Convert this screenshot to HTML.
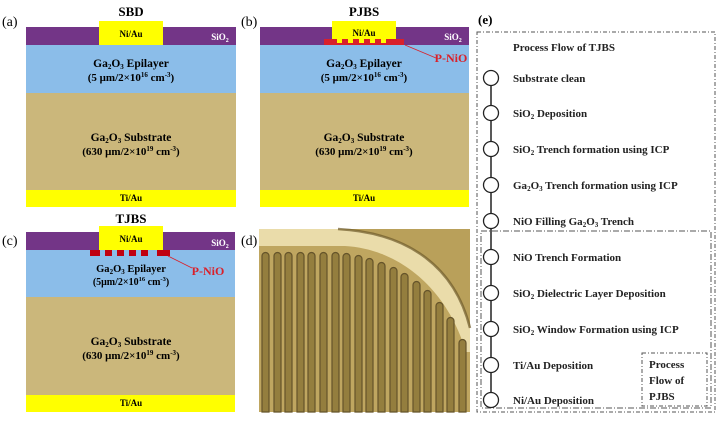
<!DOCTYPE html>
<html><head><meta charset="utf-8"><style>
html,body{margin:0;padding:0;background:#fff;width:724px;height:427px;overflow:hidden;}
svg{display:block;font-family:"Liberation Serif",serif;}
.b{font-weight:bold;}
</style></head><body>
<svg width="724" height="427" viewBox="0 0 724 427" xmlns="http://www.w3.org/2000/svg">
<!-- Panel a -->
<text x="2" y="26" font-size="14">(a)</text>
<text x="131" y="16" font-size="13" class="b" text-anchor="middle">SBD</text>
<rect x="26" y="27" width="210" height="18" fill="#733587"/>
<rect x="26" y="45" width="210" height="48" fill="#8bbde9"/>
<rect x="26" y="93" width="210" height="97" fill="#cbb77b"/>
<rect x="26" y="190" width="210" height="17" fill="#ffff00"/>
<rect x="99" y="21" width="64" height="24" fill="#ffff00"/>
<text x="131" y="37" font-size="9" class="b" text-anchor="middle">Ni/Au</text>
<text x="220" y="40" font-size="9" class="b" fill="#fff" text-anchor="middle">SiO<tspan font-size="6" dy="2">2</tspan></text>
<text x="131" y="67" font-size="11.5" class="b" text-anchor="middle">Ga<tspan font-size="7" dy="2">2</tspan><tspan dy="-2">O</tspan><tspan font-size="7" dy="2">3</tspan><tspan dy="-2"> Epilayer</tspan></text>
<text x="131" y="81" font-size="11" class="b" text-anchor="middle">(5 μm/2×10<tspan font-size="7" dy="-4">16</tspan><tspan dy="4"> cm</tspan><tspan font-size="7" dy="-4">-3</tspan><tspan dy="4">)</tspan></text>
<text x="131" y="141" font-size="11.5" class="b" text-anchor="middle">Ga<tspan font-size="7" dy="2">2</tspan><tspan dy="-2">O</tspan><tspan font-size="7" dy="2">3</tspan><tspan dy="-2"> Substrate</tspan></text>
<text x="131" y="155" font-size="11" class="b" text-anchor="middle">(630 μm/2×10<tspan font-size="7" dy="-4">19</tspan><tspan dy="4"> cm</tspan><tspan font-size="7" dy="-4">-3</tspan><tspan dy="4">)</tspan></text>
<text x="131" y="201" font-size="9" class="b" text-anchor="middle">Ti/Au</text>

<!-- Panel b -->
<text x="241" y="26" font-size="14">(b)</text>
<text x="364" y="16" font-size="13" class="b" text-anchor="middle">PJBS</text>
<rect x="260" y="27" width="209" height="18" fill="#733587"/>
<rect x="260" y="45" width="209" height="48" fill="#8bbde9"/>
<rect x="260" y="93" width="209" height="97" fill="#cbb77b"/>
<rect x="260" y="190" width="209" height="17" fill="#ffff00"/>
<rect x="332" y="21" width="64" height="24" fill="#ffff00"/>
<rect x="324" y="39" width="80" height="6" fill="#d9202a"/>
<g fill="#ffff00"><rect x="337" y="39" width="5" height="4"/><rect x="348" y="39" width="5" height="4"/><rect x="359" y="39" width="5" height="4"/><rect x="370" y="39" width="5" height="4"/><rect x="381" y="39" width="5" height="4"/></g>
<text x="364" y="36" font-size="9" class="b" text-anchor="middle">Ni/Au</text>
<text x="453" y="40" font-size="9" class="b" fill="#fff" text-anchor="middle">SiO<tspan font-size="6" dy="2">2</tspan></text>
<line x1="405" y1="45" x2="436" y2="58" stroke="#d9202a" stroke-width="0.8"/>
<text x="451" y="62" font-size="12" class="b" fill="#d9202a" text-anchor="middle">P-NiO</text>
<text x="364" y="67" font-size="11.5" class="b" text-anchor="middle">Ga<tspan font-size="7" dy="2">2</tspan><tspan dy="-2">O</tspan><tspan font-size="7" dy="2">3</tspan><tspan dy="-2"> Epilayer</tspan></text>
<text x="364" y="81" font-size="11" class="b" text-anchor="middle">(5 μm/2×10<tspan font-size="7" dy="-4">16</tspan><tspan dy="4"> cm</tspan><tspan font-size="7" dy="-4">-3</tspan><tspan dy="4">)</tspan></text>
<text x="364" y="141" font-size="11.5" class="b" text-anchor="middle">Ga<tspan font-size="7" dy="2">2</tspan><tspan dy="-2">O</tspan><tspan font-size="7" dy="2">3</tspan><tspan dy="-2"> Substrate</tspan></text>
<text x="364" y="155" font-size="11" class="b" text-anchor="middle">(630 μm/2×10<tspan font-size="7" dy="-4">19</tspan><tspan dy="4"> cm</tspan><tspan font-size="7" dy="-4">-3</tspan><tspan dy="4">)</tspan></text>
<text x="364" y="201" font-size="9" class="b" text-anchor="middle">Ti/Au</text>

<!-- Panel c -->
<text x="2" y="245" font-size="14">(c)</text>
<text x="131" y="223" font-size="13" class="b" text-anchor="middle">TJBS</text>
<rect x="26" y="232" width="209" height="18" fill="#733587"/>
<rect x="26" y="250" width="209" height="47" fill="#8bbde9"/>
<rect x="26" y="297" width="209" height="98" fill="#cbb77b"/>
<rect x="26" y="395" width="209" height="17" fill="#ffff00"/>
<rect x="99" y="226" width="64" height="24" fill="#ffff00"/>
<g fill="#c00010"><rect x="90" y="250" width="10" height="6"/><rect x="105" y="250" width="7" height="6"/><rect x="117" y="250" width="7" height="6"/><rect x="129" y="250" width="7" height="6"/><rect x="141" y="250" width="7" height="6"/><rect x="157" y="250" width="13" height="6"/></g>
<text x="131" y="242" font-size="9" class="b" text-anchor="middle">Ni/Au</text>
<text x="220" y="246" font-size="9" class="b" fill="#fff" text-anchor="middle">SiO<tspan font-size="6" dy="2">2</tspan></text>
<line x1="168" y1="256" x2="192" y2="268" stroke="#d9202a" stroke-width="0.8"/>
<text x="208" y="275" font-size="12" class="b" fill="#d9202a" text-anchor="middle">P-NiO</text>
<text x="131" y="272" font-size="10.5" class="b" text-anchor="middle">Ga<tspan font-size="7" dy="2">2</tspan><tspan dy="-2">O</tspan><tspan font-size="7" dy="2">3</tspan><tspan dy="-2"> Epilayer</tspan></text>
<text x="131" y="285" font-size="10" class="b" text-anchor="middle">(5μm/2×10<tspan font-size="6.5" dy="-4">16</tspan><tspan dy="4"> cm</tspan><tspan font-size="6.5" dy="-4">-3</tspan><tspan dy="4">)</tspan></text>
<text x="131" y="345" font-size="11.5" class="b" text-anchor="middle">Ga<tspan font-size="7" dy="2">2</tspan><tspan dy="-2">O</tspan><tspan font-size="7" dy="2">3</tspan><tspan dy="-2"> Substrate</tspan></text>
<text x="131" y="359" font-size="11" class="b" text-anchor="middle">(630 μm/2×10<tspan font-size="7" dy="-4">19</tspan><tspan dy="4"> cm</tspan><tspan font-size="7" dy="-4">-3</tspan><tspan dy="4">)</tspan></text>
<text x="131" y="406" font-size="9" class="b" text-anchor="middle">Ti/Au</text>

<!-- Panel d photo -->
<text x="241" y="245" font-size="14">(d)</text>
<rect x="259" y="229" width="211" height="183" fill="#eadcaa"/>
<path d="M338,229 C410,233 455,268 470,328 L470,229 Z" fill="#b9a05a"/>
<path d="M338,229 C410,233 455,268 470,328" fill="none" stroke="#6e5a2a" stroke-width="2.5" opacity="0.7"/>
<path d="M259,246 L345,246 C400,249 448,290 466,352 L470,352 L470,412 L259,412 Z" fill="#bfa660"/>
<g fill="#947e3e" stroke="#65542a" stroke-width="1.2">
<path d="M262,412 V256 a3.5,3.5 0 0 1 7,0 V412 Z"/>
<path d="M274,412 V256 a3.5,3.5 0 0 1 7,0 V412 Z"/>
<path d="M285,412 V256 a3.5,3.5 0 0 1 7,0 V412 Z"/>
<path d="M297,412 V256 a3.5,3.5 0 0 1 7,0 V412 Z"/>
<path d="M308,412 V256 a3.5,3.5 0 0 1 7,0 V412 Z"/>
<path d="M320,412 V256 a3.5,3.5 0 0 1 7,0 V412 Z"/>
<path d="M332,412 V256 a3.5,3.5 0 0 1 7,0 V412 Z"/>
<path d="M343,412 V257 a3.5,3.5 0 0 1 7,0 V412 Z"/>
<path d="M355,412 V259 a3.5,3.5 0 0 1 7,0 V412 Z"/>
<path d="M366,412 V262 a3.5,3.5 0 0 1 7,0 V412 Z"/>
<path d="M378,412 V266 a3.5,3.5 0 0 1 7,0 V412 Z"/>
<path d="M390,412 V271 a3.5,3.5 0 0 1 7,0 V412 Z"/>
<path d="M401,412 V277 a3.5,3.5 0 0 1 7,0 V412 Z"/>
<path d="M413,412 V285 a3.5,3.5 0 0 1 7,0 V412 Z"/>
<path d="M424,412 V294 a3.5,3.5 0 0 1 7,0 V412 Z"/>
<path d="M436,412 V306 a3.5,3.5 0 0 1 7,0 V412 Z"/>
<path d="M447,412 V321 a3.5,3.5 0 0 1 7,0 V412 Z"/>
<path d="M459,412 V343 a3.5,3.5 0 0 1 7,0 V412 Z"/>
</g>

<!-- Panel e -->
<text x="478" y="24" font-size="13" class="b">(e)</text>
<rect x="477" y="32" width="238" height="380" fill="none" stroke="#555" stroke-width="1" stroke-dasharray="4,2,1,2"/>
<rect x="481" y="231" width="230" height="177" fill="none" stroke="#555" stroke-width="1" stroke-dasharray="6,2,1,2"/>
<rect x="642" y="353" width="65" height="53" fill="none" stroke="#555" stroke-width="1" stroke-dasharray="4,2,1,2"/>
<line x1="491" y1="78" x2="491" y2="400" stroke="#222" stroke-width="1.5"/>
<g fill="#fff" stroke="#222" stroke-width="1.3">
<circle cx="491" cy="78" r="7.5"/><circle cx="491" cy="113" r="7.5"/><circle cx="491" cy="149" r="7.5"/><circle cx="491" cy="185" r="7.5"/><circle cx="491" cy="221" r="7.5"/><circle cx="491" cy="257" r="7.5"/><circle cx="491" cy="293" r="7.5"/><circle cx="491" cy="329" r="7.5"/><circle cx="491" cy="365" r="7.5"/><circle cx="491" cy="400" r="7.5"/>
</g>
<g font-size="11" class="b" fill="#222">
<text x="513" y="51">Process Flow of TJBS</text>
<text x="513" y="82">Substrate clean</text>
<text x="513" y="117">SiO<tspan font-size="7" dy="2">2</tspan><tspan dy="-2"> Deposition</tspan></text>
<text x="513" y="153">SiO<tspan font-size="7" dy="2">2</tspan><tspan dy="-2"> Trench formation using ICP</tspan></text>
<text x="513" y="189">Ga<tspan font-size="7" dy="2">2</tspan><tspan dy="-2">O</tspan><tspan font-size="7" dy="2">3</tspan><tspan dy="-2"> Trench formation using ICP</tspan></text>
<text x="513" y="225">NiO Filling Ga<tspan font-size="7" dy="2">2</tspan><tspan dy="-2">O</tspan><tspan font-size="7" dy="2">3</tspan><tspan dy="-2"> Trench</tspan></text>
<text x="513" y="261">NiO Trench Formation</text>
<text x="513" y="297">SiO<tspan font-size="7" dy="2">2</tspan><tspan dy="-2"> Dielectric Layer Deposition</tspan></text>
<text x="513" y="333">SiO<tspan font-size="7" dy="2">2</tspan><tspan dy="-2"> Window Formation using ICP</tspan></text>
<text x="513" y="369">Ti/Au Deposition</text>
<text x="513" y="404">Ni/Au Deposition</text>
<text x="649" y="368">Process</text>
<text x="649" y="384">Flow of</text>
<text x="649" y="400">PJBS</text>
</g>
</svg>
</body></html>
